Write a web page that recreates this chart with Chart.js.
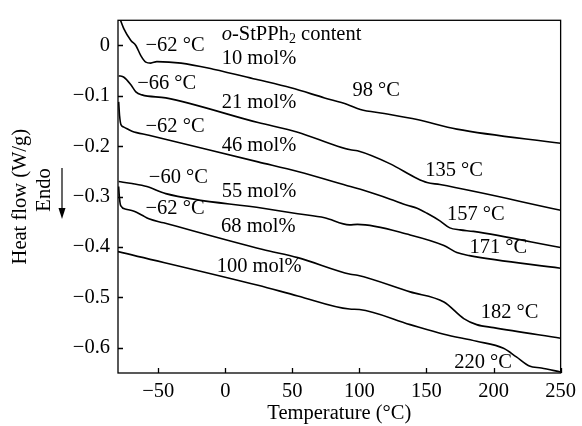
<!DOCTYPE html>
<html lang="en">
<head>
<meta charset="UTF-8">
<title>DSC curves</title>
<script src="https://cdn.jsdelivr.net/npm/chart.js"></script>
<style>
  html, body { margin: 0; padding: 0; background: #fff; }
  #wrap { width: 582px; height: 426px; }
</style>
</head>
<body>
<div id="wrap"><canvas id="dsc"></canvas></div>
<script>
const xTicks = [-50, 0, 50, 100, 150, 200, 250];
const yTicks = [0, -0.1, -0.2, -0.3, -0.4, -0.5, -0.6];

// 10 mol%
const t10 = [-79.5, -75.6, -70.4, -66.7, -63, -59.3, -55.6, -51, -33, -9, 24.4, 48.9, 74, 91, 100.7, 118.5, 143, 172.6, 250];
const hf10 = [0.06, 0.033, 0.010, 0.0, -0.020, -0.033, -0.035, -0.032, -0.035, -0.047, -0.068, -0.084, -0.104, -0.117, -0.127, -0.135, -0.147, -0.166, -0.194];
// 21 mol%
const t21 = [-79.5, -75.6, -70.4, -66.7, -62.2, -44.4, 24.4, 54, 83.7, 93.3, 98.5, 123, 143, 150.4, 160, 250];
const hf21 = [-0.060, -0.063, -0.078, -0.092, -0.098, -0.104, -0.153, -0.172, -0.200, -0.207, -0.209, -0.235, -0.264, -0.272, -0.276, -0.327];
// 46 mol%
const t46 = [-79.5, -78.8, -77.8, -75.6, -69.6, -57, 24.4, 54, 93.3, 103.7, 123, 135.6, 143, 150.4, 160, 167.4, 175, 185, 250];
const hf46 = [-0.112, -0.140, -0.157, -0.162, -0.170, -0.178, -0.231, -0.250, -0.280, -0.288, -0.305, -0.317, -0.323, -0.333, -0.348, -0.362, -0.366, -0.369, -0.401];
// 55 mol%
const t55 = [-79.5, -69.6, -58.5, -44.4, 28, 54, 74, 92.6, 98.5, 137.8, 163, 172.6, 182, 250];
const hf55 = [-0.270, -0.274, -0.280, -0.294, -0.323, -0.334, -0.342, -0.356, -0.355, -0.376, -0.397, -0.411, -0.417, -0.442];
// 68 mol%
const t68 = [-79.5, -79, -78, -74, -68, -62, -57, -46, 28, 54, 93.3, 98.5, 137.8, 163, 177.8, 187.4, 200, 250];
const hf68 = [-0.280, -0.300, -0.318, -0.325, -0.329, -0.337, -0.344, -0.352, -0.405, -0.421, -0.454, -0.456, -0.489, -0.509, -0.542, -0.554, -0.560, -0.581];
// 100 mol%
const t100 = [-80, 24.4, 54, 92.6, 100, 137.8, 163, 187.4, 207.4, 217, 226.7, 235.6, 250];
const hf100 = [-0.409, -0.476, -0.497, -0.523, -0.524, -0.554, -0.573, -0.587, -0.601, -0.618, -0.636, -0.640, -0.648];

// text labels: [text, x (°C), y (W/g)]
const notes = [
  ['\u221262 \u00b0C', -59.5, 0.0],
  ['10 mol%', -2.7, -0.027],
  ['\u221266 \u00b0C', -65.7, -0.075],
  ['21 mol%', -2.7, -0.114],
  ['98 \u00b0C', 94.8, -0.090],
  ['\u221262 \u00b0C', -59.5, -0.160],
  ['46 mol%', -2.7, -0.199],
  ['135 \u00b0C', 149, -0.248],
  ['\u221260 \u00b0C', -57, -0.262],
  ['55 mol%', -2.7, -0.290],
  ['157 \u00b0C', 165.2, -0.336],
  ['\u221262 \u00b0C', -59.5, -0.323],
  ['68 mol%', -3.2, -0.360],
  ['171 \u00b0C', 182, -0.402],
  ['100 mol%', -6.4, -0.438],
  ['182 \u00b0C', 190.4, -0.530],
  ['220 \u00b0C', 170.6, -0.630]
];

const SERIF = "'Liberation Serif', 'Times New Roman', serif";
const FS = 20.5;
Chart.defaults.font.family = SERIF;
Chart.defaults.font.size = FS;
Chart.defaults.color = '#000';

function series(t, hf) {
  return {
    data: t.map((x, i) => ({ x: x, y: hf[i] })),
    borderColor: '#000',
    borderWidth: 1.6,
    pointRadius: 0,
    fill: false,
    cubicInterpolationMode: 'monotone'
  };
}

const minus = v => String(v).replace('-', '\u2212');

// box, inward ticks, annotations
const decor = {
  id: 'decor',
  afterDraw(chart) {
    const ctx = chart.ctx;
    const a = chart.chartArea;
    const x = chart.scales.x, y = chart.scales.y;
    ctx.save();
    ctx.strokeStyle = '#000';
    ctx.lineWidth = 1.3;
    ctx.strokeRect(a.left, a.top, a.right - a.left, a.bottom - a.top);
    ctx.beginPath();
    xTicks.forEach(v => {
      const px = Math.round(x.getPixelForValue(v)) + 0.5;
      ctx.moveTo(px, a.bottom);
      ctx.lineTo(px, a.bottom - 5);
    });
    yTicks.forEach(v => {
      const py = Math.round(y.getPixelForValue(v)) + 0.5;
      ctx.moveTo(a.left, py);
      ctx.lineTo(a.left + 5, py);
    });
    ctx.stroke();

    ctx.fillStyle = '#000';
    ctx.font = FS + 'px ' + SERIF;
    ctx.textBaseline = 'middle';
    ctx.textAlign = 'left';
    notes.forEach(n => ctx.fillText(n[0], x.getPixelForValue(n[1]), y.getPixelForValue(n[2])));

    // o-StPPh2 content
    let px = x.getPixelForValue(-2.7);
    const py = y.getPixelForValue(0.0215);
    ctx.font = 'italic ' + FS + 'px ' + SERIF;
    ctx.fillText('o', px, py);
    px += ctx.measureText('o').width;
    ctx.font = FS + 'px ' + SERIF;
    ctx.fillText('-StPPh', px, py);
    px += ctx.measureText('-StPPh').width;
    ctx.font = '14px ' + SERIF;
    ctx.fillText('2', px, py + 5);
    px += ctx.measureText('2').width;
    ctx.font = FS + 'px ' + SERIF;
    ctx.fillText(' content', px, py);

    // Endo with arrow
    ctx.save();
    ctx.translate(45, 190);
    ctx.rotate(-Math.PI / 2);
    ctx.textAlign = 'center';
    ctx.fillText('Endo', 0, 0);
    ctx.restore();
    ctx.lineWidth = 1.2;
    ctx.beginPath();
    ctx.moveTo(62, 168);
    ctx.lineTo(62, 210);
    ctx.stroke();
    ctx.beginPath();
    ctx.moveTo(58.5, 208);
    ctx.lineTo(65.5, 208);
    ctx.lineTo(62, 219);
    ctx.closePath();
    ctx.fill();
    ctx.restore();
  }
};

new Chart(document.getElementById('dsc'), {
  type: 'line',
  data: {
    datasets: [
      series(t10, hf10),
      series(t21, hf21),
      series(t46, hf46),
      series(t55, hf55),
      series(t68, hf68),
      series(t100, hf100)
    ]
  },
  options: {
    responsive: true,
    maintainAspectRatio: false,
    animation: false,
    events: [],
    layout: { padding: { left: 0, top: 15, right: 18, bottom: 0 } },
    plugins: { legend: { display: false }, tooltip: { enabled: false } },
    scales: {
      x: {
        type: 'linear',
        min: -80,
        max: 250,
        grid: { display: false, drawTicks: false },
        border: { display: false },
        afterBuildTicks: s => { s.ticks = xTicks.map(v => ({ value: v })); },
        afterFit: s => { s.height = 53; },
        ticks: { padding: 6, maxRotation: 0, autoSkip: false, callback: v => minus(v) },
        title: { display: true, text: 'Temperature (\u00b0C)', padding: { top: 0, bottom: 0 } }
      },
      y: {
        type: 'linear',
        min: -0.65,
        max: 0.05,
        grid: { display: false, drawTicks: false },
        border: { display: false },
        afterBuildTicks: s => { s.ticks = yTicks.map(v => ({ value: v })); },
        afterFit: s => { s.width = 118; },
        ticks: { padding: 8, autoSkip: false, callback: v => minus(v) },
        title: { display: true, text: 'Heat flow (W/g)', padding: { top: 8, bottom: 0 } }
      }
    }
  },
  plugins: [decor]
});
</script>
</body>
</html>
